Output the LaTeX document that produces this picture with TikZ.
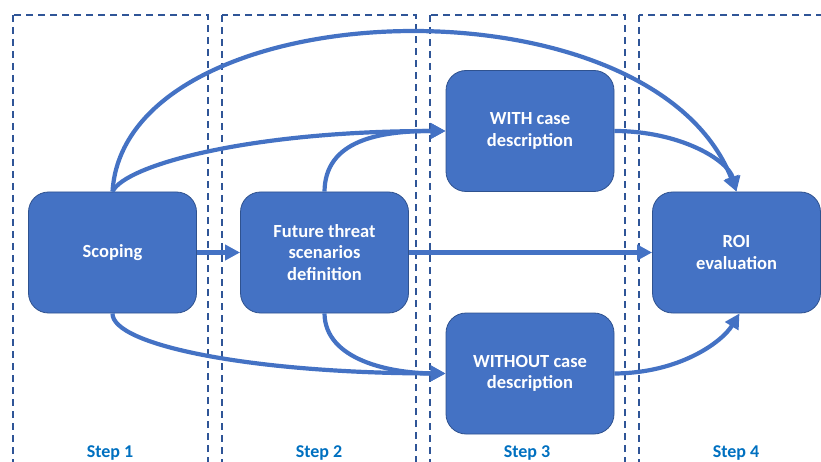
\documentclass[tikz,border=0pt]{standalone}
\usepackage{fontspec}
\setmainfont{Carlito}
\usetikzlibrary{arrows.meta}
\definecolor{boxfill}{HTML}{4472C4}
\definecolor{boxline}{HTML}{2F528F}
\definecolor{dashcol}{HTML}{2F5597}
\definecolor{stepcol}{HTML}{0070C0}
\tikzset{
  stepbox/.style={rounded corners=20pt, fill=boxfill, draw=boxline, line width=0.8pt,
    minimum width=168pt, minimum height=121pt, inner sep=0pt, align=center,
    text=white, font=\fontsize{18.5}{21.5}\selectfont\bfseries},
  colbox/.style={draw=dashcol, line width=1.4pt, dash pattern=on 7pt off 5pt},
  steplabel/.style={text=stepcol, font=\fontsize{18}{21}\selectfont\bfseries, anchor=base, inner sep=0pt},
  flow/.style={draw=boxfill, line width=4.2pt, -{Triangle[length=15pt,width=15pt]}}
}
\begin{document}
\begin{tikzpicture}[x=1pt,y=-1pt]
\useasboundingbox (0,0) rectangle (821,462);
\begin{scope}
\clip (0,0) rectangle (821,462);
\draw[colbox] (13,15) rectangle (208,490);
\draw[colbox] (222,15) rectangle (416,490);
\draw[colbox] (430,15) rectangle (625,490);
\draw[colbox] (639,15) rectangle (850,490);
\end{scope}

\node[stepbox] (scoping) at (112.5,252.5) {Scoping};
\node[stepbox] (future) at (324.5,252.5) {Future threat\\scenarios\\definition};
\node[stepbox] (with) at (530,131) {WITH case\\description};
\node[stepbox] (without) at (530,373.5) {WITHOUT case\\description};
\node[stepbox] (roi) at (736.5,252.5) {ROI\\evaluation};

\node[steplabel] (s1) at (110,457.5) {Step 1};
\node[steplabel] (s2) at (319,457.5) {Step 2};
\node[steplabel] (s3) at (527,457.5) {Step 3};
\node[steplabel] (s4) at (736,457.5) {Step 4};

\draw[flow] (scoping.east) -- (future.west);
\draw[flow] (future.east) -- (roi.west);
\draw[flow] (scoping.north) .. controls (125,-10) and (650,-30) .. (roi.north);
\draw[flow] (scoping.north) .. controls (125,165) and (250,131) .. (with.west);
\draw[flow] (future.north) .. controls (325,140) and (380,131) .. (with.west);
\draw[flow] (scoping.south) .. controls (112,345) and (250,373) .. (without.west);
\draw[flow] (future.south) .. controls (325,360) and (390,373) .. (without.west);
\draw[flow] (with.east) .. controls (680,131) and (728,160) .. (roi.north);
\draw[flow] (without.east) .. controls (680,373) and (722,342) .. ([xshift=3pt]roi.south);
\end{tikzpicture}
\end{document}
